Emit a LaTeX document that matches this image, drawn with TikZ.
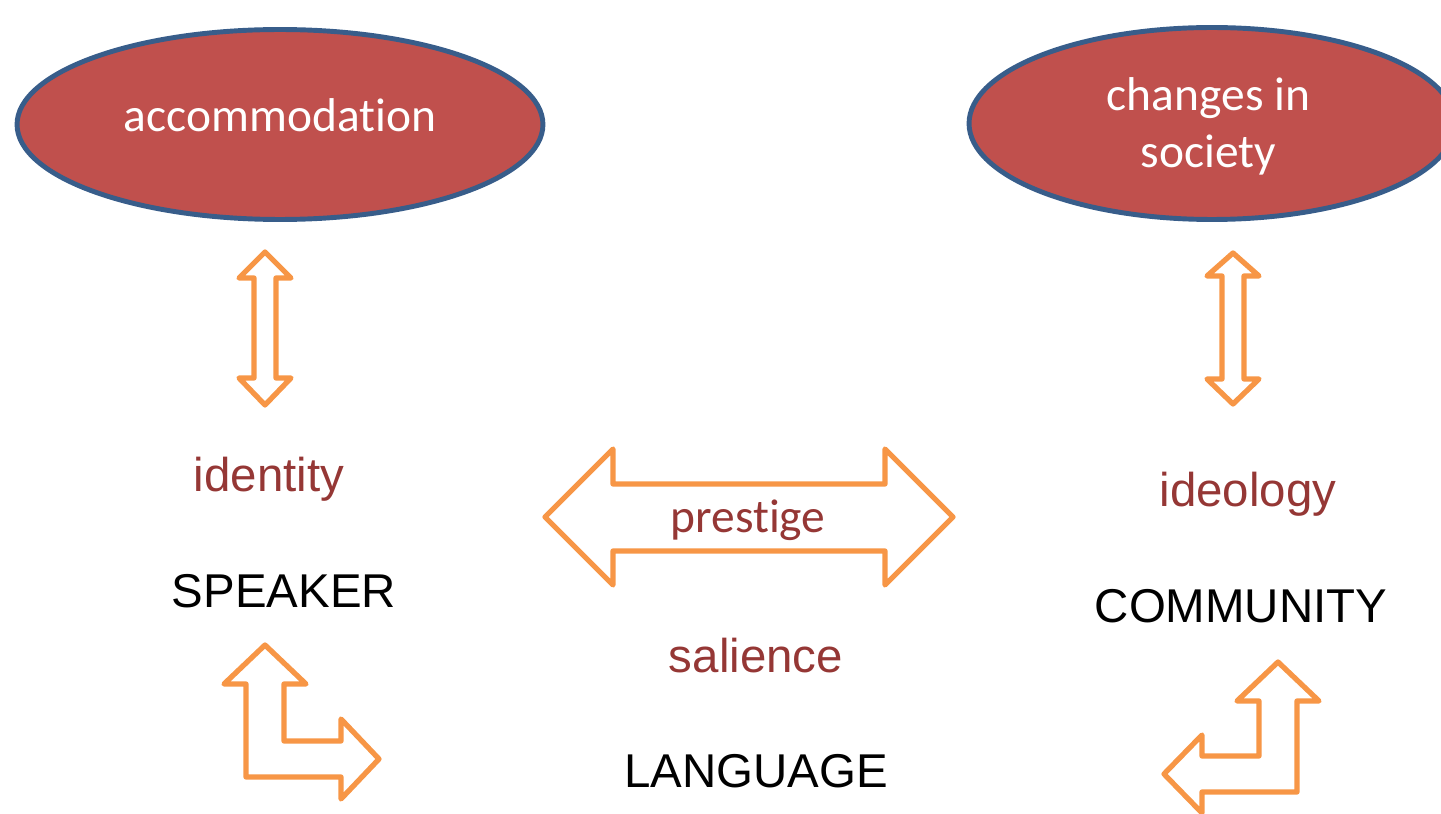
\documentclass[tikz,border=0pt]{standalone}
\usepackage{fontspec}
\setmainfont{Liberation Sans}
\newfontfamily\calfont[Ligatures=NoCommon]{Carlito}
\usetikzlibrary{shapes.geometric}
\definecolor{blobred}{HTML}{C0504D}
\definecolor{blobblue}{HTML}{385D8A}
\definecolor{arroworange}{HTML}{F79646}
\definecolor{wordred}{HTML}{953735}
\tikzset{
  blob/.style={ellipse, draw=blobblue, line width=2.8pt, fill=blobred, inner sep=0pt},
  blobtext/.style={text=white, font=\calfont\fontsize{27}{33}\selectfont, inner sep=0pt, anchor=base, align=center},
  blockarrow/.style={draw=arroworange, line width=3pt, fill=white},
  keyword/.style={text=wordred, inner sep=0pt, anchor=base},
  mainword/.style={text=black, inner sep=0pt, anchor=base}
}
\begin{document}
\begin{tikzpicture}[x=0.02cm, y=-0.02cm, line join=round, line cap=round, font=\fontsize{27}{33}\selectfont]
			\useasboundingbox (0,0) rectangle (1441,814);
			\clip (0,0) rectangle (1441,814);
			% ellipses
			\node[blob, minimum width=10.52cm, minimum height=3.8cm] (accom) at (280,124.5) {};
			\node[blob, minimum width=9.72cm, minimum height=3.84cm] (society) at (1212,123.5) {};
			\node[blobtext] (accomtxt) at (280,132) {accommodation};
			\node[blobtext] (societytxt) at (1208.5,168) {changes in\\society};
			% vertical arrows
			\draw[blockarrow] (265,252) -- (291,278) -- (276,278) -- (276,378) -- (291,378) -- (265,405) -- (239,378) -- (254,378) -- (254,278) -- (239,278) -- cycle;
			\draw[blockarrow] (1233,253) -- (1259,276) -- (1244,276) -- (1244,379) -- (1259,379) -- (1233,404) -- (1207,379) -- (1222,379) -- (1222,276) -- (1207,276) -- cycle;
			% prestige arrow
			\draw[blockarrow] (545,517) -- (613,449) -- (613,484) -- (885,484) -- (885,449) -- (953,517) -- (885,585) -- (885,551) -- (613,551) -- (613,585) -- cycle;
			% bent arrows
			\draw[blockarrow] (265,645) -- (306,684) -- (284,684) -- (284,741) -- (341,741) -- (341,719) -- (379,759) -- (341,799) -- (341,777) -- (246,777) -- (246,684) -- (224,684) -- cycle;
			\draw[blockarrow] (1278,662) -- (1319,701) -- (1297,701) -- (1297,792) -- (1202,792) -- (1202,813) -- (1164,774) -- (1202,735) -- (1202,756) -- (1259,756) -- (1259,701) -- (1237,701) -- cycle;
			% words
			\node[keyword] (identity) at (269,491) {identity};
			\node[keyword] (ideology) at (1248,506) {ideology};
			\node[keyword, font=\calfont\fontsize{27}{33}\selectfont] (prestige) at (748,532) {prestige};
			\node[keyword] (salience) at (756,672) {salience};
			\node[mainword] (speaker) at (284,607) {SPEAKER};
			\node[mainword] (community) at (1241,622) {COMMUNITY};
			\node[mainword] (language) at (756,787) {LANGUAGE};
\end{tikzpicture}
\end{document}
